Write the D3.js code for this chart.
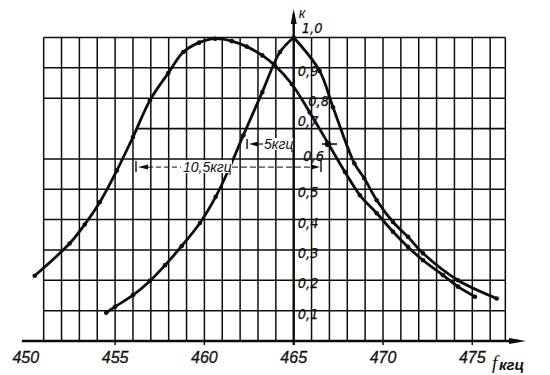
<!DOCTYPE html>
<html>
<head>
<meta charset="utf-8">
<script src="https://cdn.jsdelivr.net/npm/d3@7"></script>
<style>
  html, body { margin: 0; padding: 0; background: #fff; }
  svg { display: block; }
  text { fill: #111; }
</style>
</head>
<body>
<svg id="chart" width="550" height="375"></svg>
<script>
// ---------- data ----------
const xTickValues = [450, 455, 460, 465, 470, 475];
const xTickLabels = ["450", "455", "460", "465", "470", "475"];
const yTickValues = [0.1, 0.2, 0.3, 0.4, 0.5, 0.6, 0.7, 0.8, 0.9, 1.0];
const yTickLabels = ["0,1", "0,2", "0,3", "0,4", "0,5", "0,6", "0,7", "0,8", "0,9", "1,0"];

// wide (detuned) resonance curve
const wideF = [450.5, 452.45, 453.3, 454.15, 455.1, 456.0, 456.95, 457.98, 458.82, 459.7, 460.6, 461.53, 462.37, 463.24, 463.95, 464.9, 465.9, 466.94, 467.87, 468.71, 469.65, 470.56, 471.4, 472.24, 473.36, 474.2, 475.15];
const wideK = [0.215, 0.321, 0.384, 0.458, 0.562, 0.672, 0.793, 0.883, 0.952, 0.983, 0.996, 0.988, 0.970, 0.941, 0.908, 0.846, 0.753, 0.650, 0.557, 0.480, 0.421, 0.360, 0.310, 0.266, 0.217, 0.179, 0.146];

// narrow resonance curve (peak at 465 kHz)
const narrowF = [454.5, 455.0, 456.0, 456.95, 457.8, 458.73, 459.75, 460.63, 461.34, 462.18, 463.24, 464.23, 465.0, 466.45, 467.2, 468.4, 468.95, 469.65, 470.56, 471.4, 472.24, 474.2, 476.37];
const narrowK = [0.093, 0.113, 0.151, 0.198, 0.25, 0.313, 0.389, 0.475, 0.562, 0.678, 0.82, 0.952, 1.0, 0.89, 0.77, 0.585, 0.536, 0.464, 0.392, 0.343, 0.289, 0.20, 0.140];

// bandwidth annotations
const bandLabels = ["10,5кгц", "5кгц"];
const bandFrom = [456.17, 462.39];
const bandTo = [466.53, 466.92];
const bandLevel = [0.573, 0.649];

// axis names
const xAxisName = ["f", "кгц"];
const yAxisName = "к";

// ---------- layout ----------
const svg = d3.select("#chart");
const x = d3.scaleLinear().domain([450, 475]).range([25.8, 472.3]);
const y = d3.scaleLinear().domain([0, 1]).range([341, 37.5]);

const gridLeft = 451, gridRight = 476.85, peakF = 465;
const ink = "#0d0d0d";

// grid
const g = svg.append("g");
const vLines = d3.range(gridLeft, 477).concat([gridRight]);
g.selectAll("line.v").data(vLines).join("line")
  .attr("x1", d => x(d)).attr("x2", d => x(d))
  .attr("y1", y(1)).attr("y2", d => (d % 5 === 0 ? y(0) + 4 : y(0)))
  .attr("stroke", ink).attr("stroke-width", 1.5);
const hLines = yTickValues;
g.selectAll("line.h").data(hLines).join("line")
  .attr("x1", d => (Math.abs(d - 0.7) < 1e-9 ? x(456.25) : x(gridLeft)))
  .attr("x2", x(gridRight))
  .attr("y1", d => y(d)).attr("y2", d => y(d))
  .attr("stroke", ink).attr("stroke-width", d => (Math.abs(d - 0.7) < 1e-9 ? 1.8 : 1.5));

// axes
svg.append("line").attr("x1", x(449.78)).attr("x2", x(475.9) + 30).attr("y1", y(0)).attr("y2", y(0))
  .attr("stroke", ink).attr("stroke-width", 2.4);
const xEnd = 526;
svg.append("path").attr("d", `M${xEnd},${y(0)} L${xEnd - 17},${y(0) - 3} L${xEnd - 17},${y(0) + 3} Z`).attr("fill", ink);
svg.append("line").attr("x1", x(peakF)).attr("x2", x(peakF)).attr("y1", y(0) + 4).attr("y2", 14)
  .attr("stroke", ink).attr("stroke-width", 2.4);
svg.append("path").attr("d", `M${x(peakF)},9 L${x(peakF) - 3},24 L${x(peakF) + 3},24 Z`).attr("fill", ink);

// x tick labels
svg.selectAll("text.xt").data(xTickValues).join("text")
  .attr("x", d => x(d)).attr("y", 363)
  .attr("text-anchor", "middle")
  .attr("font-family", "'Liberation Sans', Arial, sans-serif")
  .attr("font-style", "italic").attr("font-size", 16)
  .attr("stroke", "#111").attr("stroke-width", 0.3)
  .text((d, i) => xTickLabels[i]);

// y tick labels
const yNudge = { "1,0": [4, -12.5], "0,8": [10.5, 0], "0,7": [0, -10.5], "0,6": [5.5, -6] };
svg.selectAll("text.yt").data(yTickValues).join("text")
  .attr("x", (d, i) => x(peakF) + 4 + (yNudge[yTickLabels[i]] || [0, 0])[0])
  .attr("y", (d, i) => y(d) + 3 + (yNudge[yTickLabels[i]] || [0, 0])[1])
  .attr("dominant-baseline", "central")
  .attr("font-family", "'Liberation Sans Narrow', 'DejaVu Sans Condensed', sans-serif")
  .attr("font-style", "italic").attr("font-size", 14.5)
  .attr("stroke", "#111").attr("stroke-width", 0.25)
  .text((d, i) => yTickLabels[i]);

// axis names
svg.append("text").attr("x", x(peakF) + 5).attr("y", 18)
  .attr("font-family", "'Liberation Sans', Arial, sans-serif").attr("font-style", "italic").attr("font-size", 14)
  .text(yAxisName);
svg.append("text").attr("x", 492).attr("y", 369)
  .attr("font-family", "'Liberation Serif', serif").attr("font-style", "italic").attr("font-size", 19)
  .text(xAxisName[0]);
svg.append("text").attr("x", 499).attr("y", 370)
  .attr("font-family", "'Liberation Sans', Arial, sans-serif").attr("font-style", "italic").attr("font-weight", "bold").attr("font-size", 15)
  .text(xAxisName[1]);

// curves
const line = d3.line().x(d => x(d[0])).y(d => y(d[1])).curve(d3.curveCatmullRom.alpha(0.5));
const wide = wideF.map((f, i) => [f, wideK[i]]);
const narrow = narrowF.map((f, i) => [f, narrowK[i]]);
const narrowL = narrow.filter(d => d[0] <= peakF);
const narrowR = narrow.filter(d => d[0] >= peakF);
[wide, narrowL, narrowR].forEach(pts => {
  svg.append("path").attr("d", line(pts)).attr("fill", "none")
    .attr("stroke", ink).attr("stroke-width", 2.8).attr("stroke-linejoin", "round").attr("stroke-linecap", "round");
});
svg.selectAll("circle.w").data(wide.concat(narrow)).join("circle")
  .attr("cx", d => x(d[0])).attr("cy", d => y(d[1])).attr("r", 2.3).attr("fill", ink);

// bandwidth annotations
const annFont = "'Liberation Sans', Arial, sans-serif";
// 10,5 kHz
{
  const yy = y(bandLevel[0]), x1 = x(bandFrom[0]), x2 = x(bandTo[0]);
  svg.append("line").attr("x1", x1).attr("x2", x1).attr("y1", yy - 6).attr("y2", yy + 5).attr("stroke", ink).attr("stroke-width", 1.4);
  svg.append("line").attr("x1", x2).attr("x2", x2).attr("y1", yy - 7).attr("y2", yy + 5).attr("stroke", ink).attr("stroke-width", 1.4);
  svg.append("path").attr("d", `M${x1 + 2},${yy} L${x1 + 12},${yy - 2.5} L${x1 + 12},${yy + 2.5} Z`).attr("fill", ink);
  svg.append("path").attr("d", `M${x2 - 1},${yy} L${x2 - 10},${yy - 2.5} L${x2 - 10},${yy + 2.5} Z`).attr("fill", ink);
  svg.append("line").attr("x1", x1 + 12).attr("x2", x1 + 45).attr("y1", yy).attr("y2", yy).attr("stroke", ink).attr("stroke-width", 1).attr("stroke-dasharray", "5,3");
  svg.append("line").attr("x1", x1 + 96).attr("x2", x2 - 10).attr("y1", yy).attr("y2", yy).attr("stroke", ink).attr("stroke-width", 1).attr("stroke-dasharray", "6,3");
  svg.append("rect").attr("x", x1 + 46).attr("y", yy - 7).attr("width", 50).attr("height", 13).attr("fill", "#fff");
  svg.append("text").attr("x", x1 + 47).attr("y", yy + 5)
    .attr("font-family", annFont).attr("font-style", "italic").attr("font-size", 14).text(bandLabels[0]);
}
// 5 kHz
{
  const yy = y(bandLevel[1]), x1 = x(bandFrom[1]), x2 = x(bandTo[1]);
  svg.append("line").attr("x1", x1).attr("x2", x1).attr("y1", yy - 5).attr("y2", yy + 5).attr("stroke", ink).attr("stroke-width", 1.4);
  svg.append("path").attr("d", `M${x1 + 2},${yy} L${x1 + 11},${yy - 2.5} L${x1 + 11},${yy + 2.5} Z`).attr("fill", ink);
  svg.append("line").attr("x1", x1 + 11).attr("x2", x1 + 16).attr("y1", yy).attr("y2", yy).attr("stroke", ink).attr("stroke-width", 1.2);
  svg.append("rect").attr("x", x1 + 17).attr("y", yy - 6).attr("width", 29).attr("height", 12).attr("fill", "#fff");
  svg.append("text").attr("x", x1 + 17).attr("y", yy + 5)
    .attr("font-family", annFont).attr("font-style", "italic").attr("font-size", 14).text(bandLabels[1]);
  svg.append("line").attr("x1", x2 - 6).attr("x2", x2 + 9).attr("y1", yy).attr("y2", yy).attr("stroke", ink).attr("stroke-width", 1.6);
  svg.append("circle").attr("cx", x2).attr("cy", yy).attr("r", 3.2).attr("fill", ink);
}
</script>
</body>
</html>
